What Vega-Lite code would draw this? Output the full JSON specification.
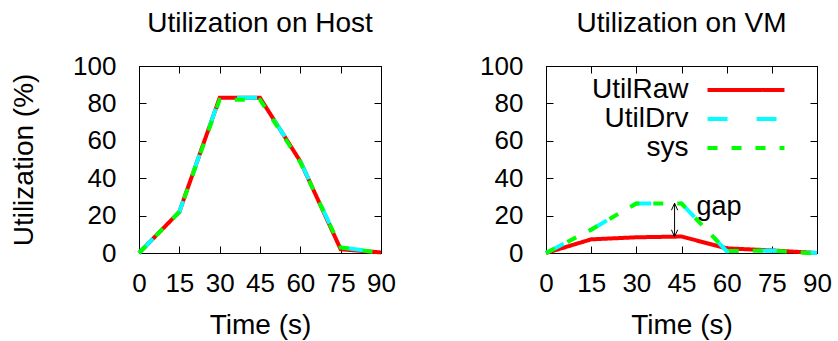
{
  "$schema": "https://vega.github.io/schema/vega-lite/v6.json",
  "background": "white",
  "padding": {"left": 10, "top": 9, "right": 5, "bottom": 5},
  "datasets": {
    "host": [
      {"t": 0, "v": 0, "series": "UtilRaw"},
      {"t": 15, "v": 22, "series": "UtilRaw"},
      {"t": 30, "v": 83, "series": "UtilRaw"},
      {"t": 45, "v": 83, "series": "UtilRaw"},
      {"t": 60, "v": 49, "series": "UtilRaw"},
      {"t": 75, "v": 2, "series": "UtilRaw"},
      {"t": 90, "v": 0.3, "series": "UtilRaw"},
      {"t": 0, "v": 0, "series": "UtilDrv"},
      {"t": 15, "v": 22, "series": "UtilDrv"},
      {"t": 30, "v": 83, "series": "UtilDrv"},
      {"t": 45, "v": 83, "series": "UtilDrv"},
      {"t": 60, "v": 49, "series": "UtilDrv"},
      {"t": 75, "v": 3, "series": "UtilDrv"},
      {"t": 90, "v": 0.3, "series": "UtilDrv"},
      {"t": 0, "v": 0, "series": "sys"},
      {"t": 15, "v": 22, "series": "sys"},
      {"t": 30, "v": 82, "series": "sys"},
      {"t": 45, "v": 82, "series": "sys"},
      {"t": 60, "v": 48.5, "series": "sys"},
      {"t": 75, "v": 3, "series": "sys"},
      {"t": 90, "v": 0, "series": "sys"}
    ],
    "vm": [
      {"t": 0, "v": 0, "series": "UtilRaw"},
      {"t": 15, "v": 7.3, "series": "UtilRaw"},
      {"t": 30, "v": 8.4, "series": "UtilRaw"},
      {"t": 45, "v": 8.8, "series": "UtilRaw"},
      {"t": 60, "v": 2.5, "series": "UtilRaw"},
      {"t": 75, "v": 1.4, "series": "UtilRaw"},
      {"t": 90, "v": 0, "series": "UtilRaw"},
      {"t": 0, "v": 0, "series": "UtilDrv"},
      {"t": 15, "v": 12.5, "series": "UtilDrv"},
      {"t": 30, "v": 26.5, "series": "UtilDrv"},
      {"t": 45, "v": 26.5, "series": "UtilDrv"},
      {"t": 60, "v": 1, "series": "UtilDrv"},
      {"t": 75, "v": 1.3, "series": "UtilDrv"},
      {"t": 90, "v": 0, "series": "UtilDrv"},
      {"t": 0, "v": 0, "series": "sys"},
      {"t": 15, "v": 12.5, "series": "sys"},
      {"t": 30, "v": 26.5, "series": "sys"},
      {"t": 45, "v": 26.5, "series": "sys"},
      {"t": 60, "v": 1, "series": "sys"},
      {"t": 75, "v": 1.3, "series": "sys"},
      {"t": 90, "v": -0.3, "series": "sys"}
    ],
    "arrow": [{"t": 42.7, "lo": 8.7, "hi": 26.6}],
    "heads": [
      {"t": 42.7, "v": 26.6, "dir": "up"},
      {"t": 42.7, "v": 8.7, "dir": "down"}
    ],
    "note": [{"t": 50, "v": 20.3, "label": "gap"}]
  },
  "config": {
    "font": "Liberation Sans",
    "view": {"stroke": "black", "strokeWidth": 1},
    "axis": {
      "grid": false,
      "domainColor": "black",
      "tickColor": "black",
      "tickSize": -7,
      "labelFontSize": 26,
      "labelColor": "black",
      "labelFlush": false,
      "labelOverlap": false,
      "titleFontSize": 28,
      "titleFontWeight": "normal",
      "titleColor": "black"
    },
    "title": {"fontSize": 28, "fontWeight": "normal", "color": "black"},
    "concat": {"spacing": 83}
  },
  "resolve": {
    "scale": {"color": "independent", "strokeDash": "independent"},
    "legend": {"color": "independent", "strokeDash": "independent"}
  },
  "hconcat": [
    {
      "width": 242,
      "height": 187,
      "title": {"text": "Utilization on Host", "offset": 15},
      "data": {"name": "host"},
      "encoding": {
        "x": {"field": "t", "type": "quantitative", "scale": {"domain": [0, 90], "nice": false}},
        "y": {"field": "v", "type": "quantitative", "scale": {"domain": [0, 100], "nice": false}},
        "color": {"field": "series", "type": "nominal", "scale": {"domain": ["UtilRaw", "UtilDrv", "sys"], "range": ["#ff0000", "#00ffff", "#00ff00"]}, "legend": null},
        "strokeDash": {"field": "series", "type": "nominal", "scale": {"domain": ["UtilRaw", "UtilDrv", "sys"], "range": [[1, 0], [20, 29], [10, 14]]}, "legend": null}
      },
      "layer": [
        {
          "transform": [{"filter": "datum.series === 'UtilRaw'"}],
          "mark": {"type": "line", "strokeWidth": 4},
          "encoding": {
            "x": {"field": "t", "type": "quantitative", "axis": {"orient": "bottom", "values": [0, 15, 30, 45, 60, 75, 90], "title": "Time (s)", "labelPadding": 24, "titlePadding": 15}},
            "y": {"field": "v", "type": "quantitative", "axis": {"orient": "left", "values": [0, 20, 40, 60, 80, 100], "title": "Utilization (%)", "labelPadding": 30, "titlePadding": 34}}
          }
        },
        {
          "transform": [{"filter": "datum.series === 'UtilDrv'"}],
          "mark": {"type": "line", "strokeWidth": 4},
          "encoding": {
            "x": {"field": "t", "type": "quantitative", "axis": {"orient": "top", "values": [0, 15, 30, 45, 60, 75, 90], "labels": false, "title": null}},
            "y": {"field": "v", "type": "quantitative", "axis": {"orient": "right", "values": [0, 20, 40, 60, 80, 100], "labels": false, "title": null}}
          }
        },
        {
          "transform": [{"filter": "datum.series === 'sys'"}],
          "mark": {"type": "line", "strokeWidth": 4},
          "encoding": {
            "x": {"field": "t", "type": "quantitative", "axis": null},
            "y": {"field": "v", "type": "quantitative", "axis": null}
          }
        }
      ],
      "resolve": {"axis": {"x": "independent", "y": "independent"}}
    },
    {
      "width": 271,
      "height": 187,
      "title": {"text": "Utilization on VM", "offset": 15},
      "layer": [
        {
          "data": {"name": "vm"},
          "transform": [{"filter": "datum.series === 'UtilRaw'"}],
          "mark": {"type": "line", "strokeWidth": 4},
          "encoding": {
            "x": {"field": "t", "type": "quantitative", "scale": {"domain": [0, 90], "nice": false}, "axis": {"orient": "bottom", "values": [0, 15, 30, 45, 60, 75, 90], "title": "Time (s)", "labelPadding": 24, "titlePadding": 15}},
            "y": {"field": "v", "type": "quantitative", "scale": {"domain": [0, 100], "nice": false}, "axis": {"orient": "left", "values": [0, 20, 40, 60, 80, 100], "title": null, "labelPadding": 30}},
            "color": {"field": "series", "type": "nominal", "scale": {"domain": ["UtilRaw", "UtilDrv", "sys"], "range": ["#ff0000", "#00ffff", "#00ff00"]}, "legend": {"orient": "none", "legendX": 159, "legendY": 10, "title": null, "symbolType": "M-4,0L4,0", "symbolSize": 370, "symbolStrokeWidth": 4, "symbolOffset": 27, "labelFontSize": 28, "labelColor": "black", "labelAlign": "right", "labelOffset": -71.5, "rowPadding": 1}},
            "strokeDash": {"field": "series", "type": "nominal", "scale": {"domain": ["UtilRaw", "UtilDrv", "sys"], "range": [[1, 0], [20, 29], [10, 14]]}, "legend": {"orient": "none", "legendX": 159, "legendY": 10, "title": null, "symbolType": "M-4,0L4,0", "symbolSize": 370, "symbolStrokeWidth": 4, "symbolOffset": 27, "labelFontSize": 28, "labelColor": "black", "labelAlign": "right", "labelOffset": -71.5, "rowPadding": 1}}
          }
        },
        {
          "data": {"name": "vm"},
          "transform": [{"filter": "datum.series === 'UtilDrv'"}],
          "mark": {"type": "line", "strokeWidth": 4},
          "encoding": {
            "x": {"field": "t", "type": "quantitative", "axis": {"orient": "top", "values": [0, 15, 30, 45, 60, 75, 90], "labels": false, "title": null}},
            "y": {"field": "v", "type": "quantitative", "axis": {"orient": "right", "values": [0, 20, 40, 60, 80, 100], "labels": false, "title": null}},
            "color": {"field": "series", "type": "nominal"},
            "strokeDash": {"field": "series", "type": "nominal"}
          }
        },
        {
          "data": {"name": "vm"},
          "transform": [{"filter": "datum.series === 'sys'"}],
          "mark": {"type": "line", "strokeWidth": 4},
          "encoding": {
            "x": {"field": "t", "type": "quantitative", "axis": null},
            "y": {"field": "v", "type": "quantitative", "axis": null},
            "color": {"field": "series", "type": "nominal"},
            "strokeDash": {"field": "series", "type": "nominal"}
          }
        },
        {
          "data": {"name": "arrow"},
          "mark": {"type": "rule", "color": "black", "strokeWidth": 1},
          "encoding": {
            "x": {"field": "t", "type": "quantitative", "axis": null},
            "y": {"field": "lo", "type": "quantitative", "axis": null},
            "y2": {"field": "hi"}
          }
        },
        {
          "data": {"name": "heads"},
          "mark": {"type": "point", "filled": false, "stroke": "black", "strokeWidth": 1, "size": 196, "opacity": 1},
          "encoding": {
            "x": {"field": "t", "type": "quantitative", "axis": null},
            "y": {"field": "v", "type": "quantitative", "axis": null},
            "shape": {"field": "dir", "type": "nominal", "scale": {"domain": ["up", "down"], "range": ["M-0.45,1L0,0L0.45,1", "M-0.45,-1L0,0L0.45,-1"]}, "legend": null}
          }
        },
        {
          "data": {"name": "note"},
          "mark": {"type": "text", "align": "left", "baseline": "alphabetic", "fontSize": 27, "color": "black"},
          "encoding": {
            "x": {"field": "t", "type": "quantitative", "axis": null},
            "y": {"field": "v", "type": "quantitative", "axis": null},
            "text": {"field": "label"}
          }
        }
      ],
      "resolve": {"axis": {"x": "independent", "y": "independent"}}
    }
  ]
}
